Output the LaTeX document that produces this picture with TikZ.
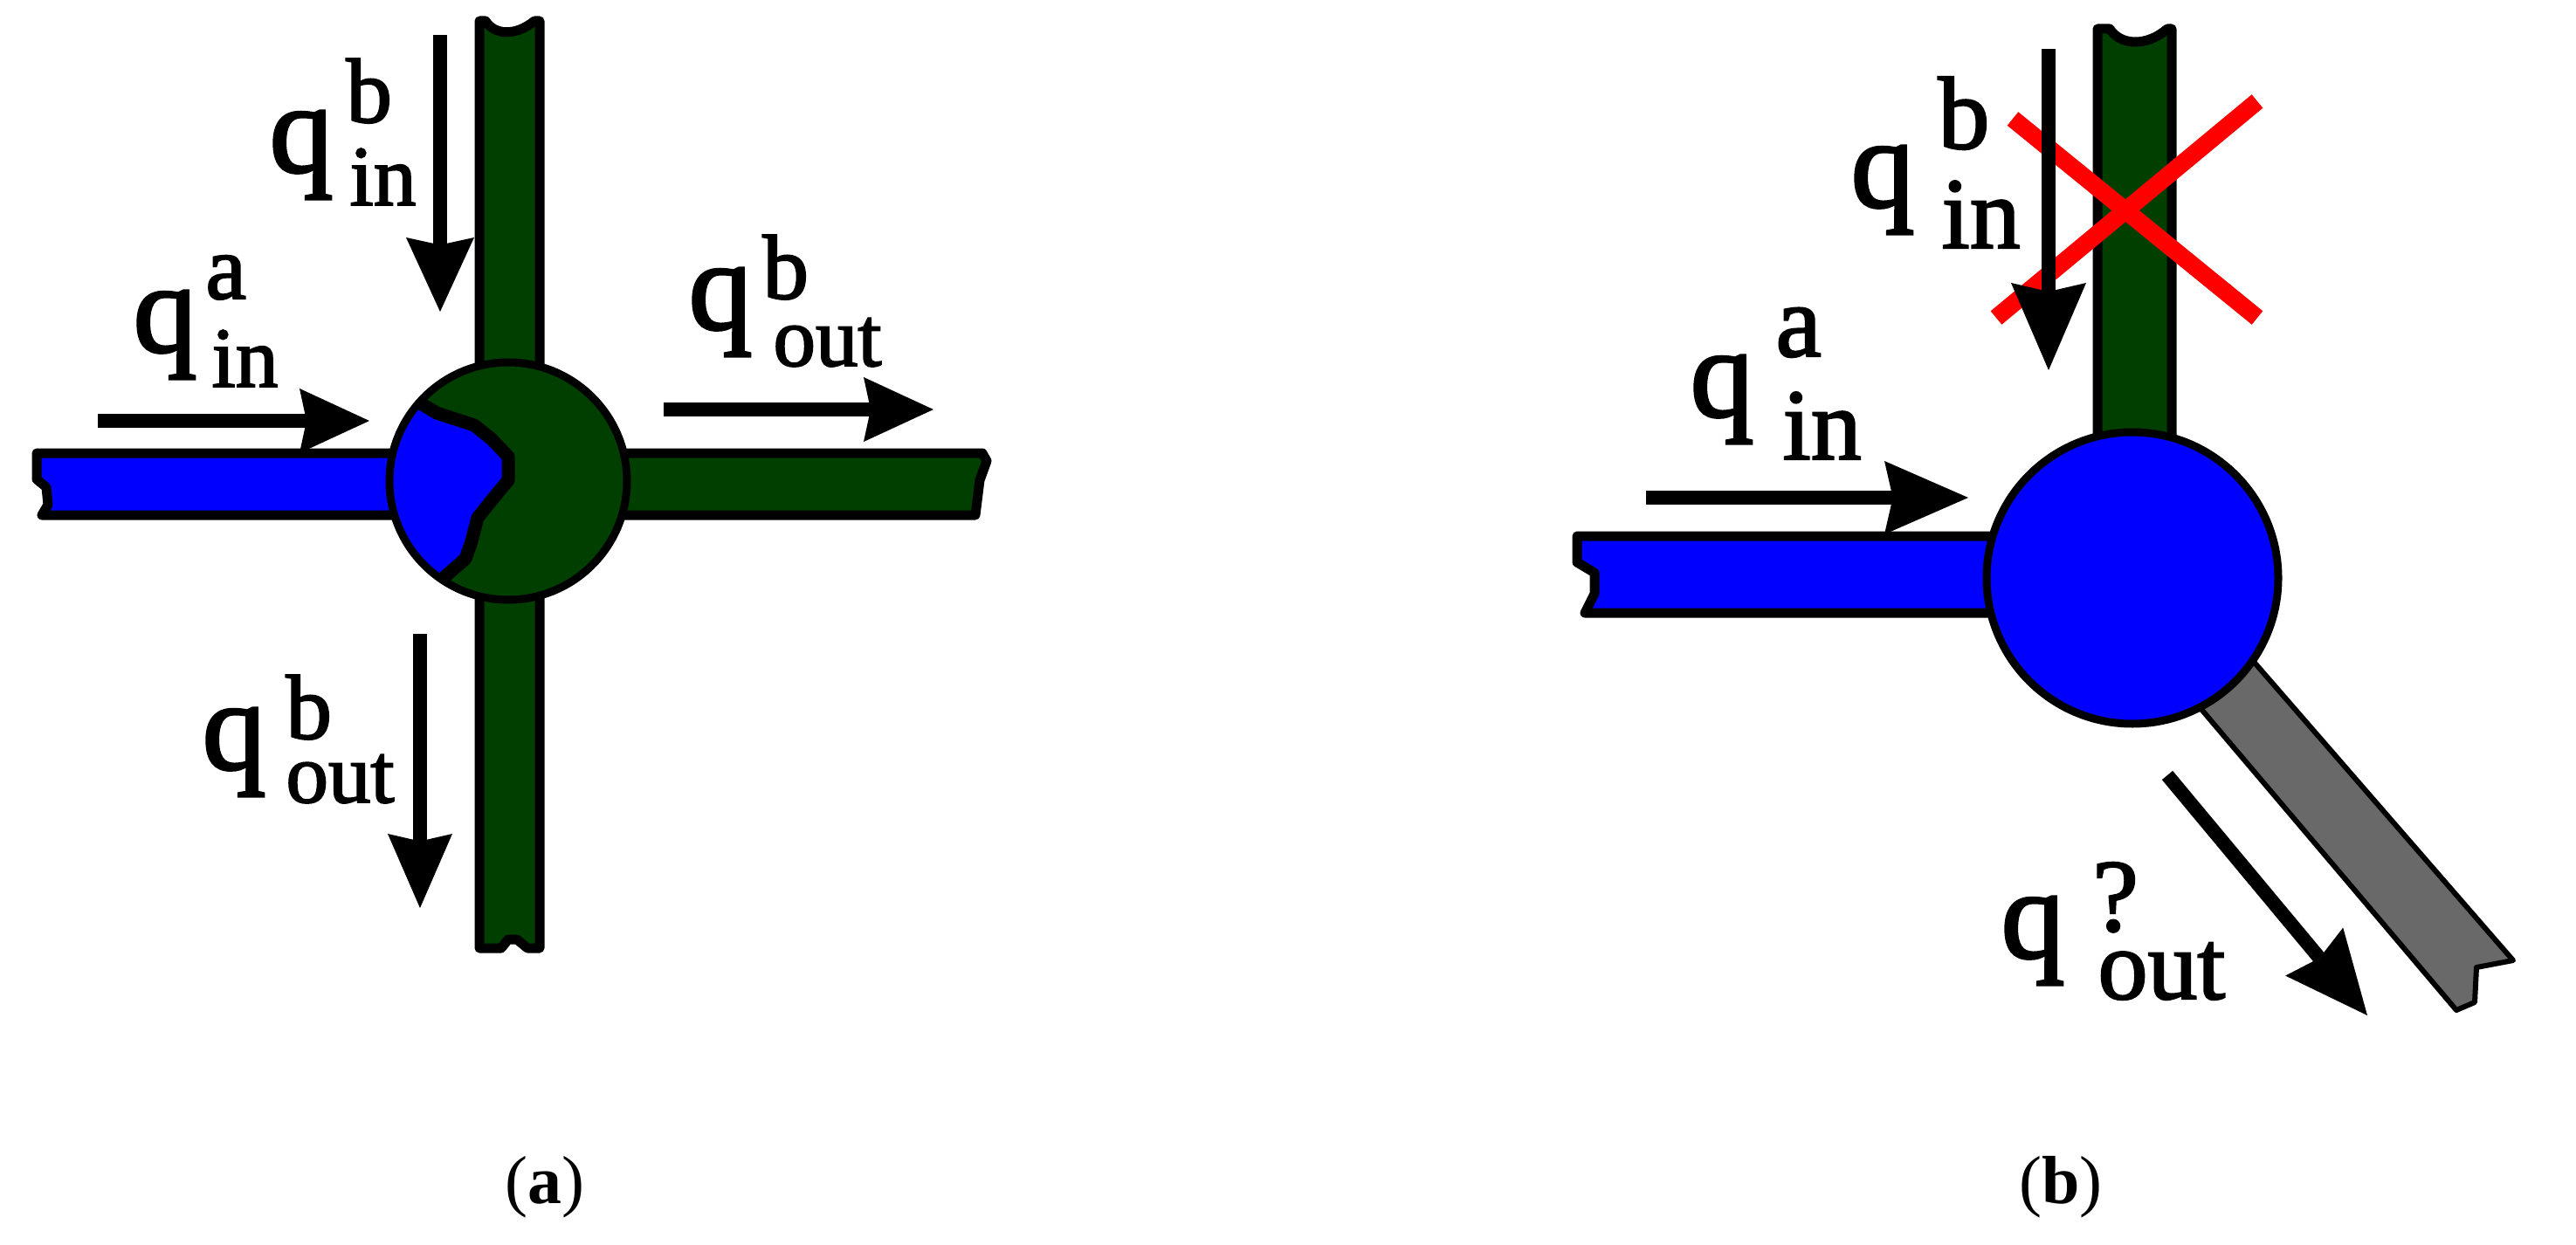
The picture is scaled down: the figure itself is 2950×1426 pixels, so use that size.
\documentclass[tikz,border=0pt]{standalone}
\usepackage{fontspec}
\setmainfont{Liberation Serif}
\newfontfamily\labfont[RawFeature={embolden=2}]{Liberation Serif}
\definecolor{pipegreen}{HTML}{003F00}
\definecolor{pipeblue}{HTML}{0000FF}
\definecolor{pipegray}{HTML}{696969}
\tikzset{
  pipe/.style={draw=black,line width=11pt,line join=round},
  thinpipe/.style={draw=black,line width=6pt,line join=round},
  shaft/.style={draw=black,line width=16pt},
  redcross/.style={draw=red,line width=20pt},
  lab/.style={anchor=base west,inner sep=0pt,outer sep=0pt},
  captext/.style={anchor=base,inner sep=0pt,outer sep=0pt,font=\fontsize{78}{78}\selectfont}
}
% #1 sup size, #2 sup, #3 sub, #4 sup dx, #5 sup raise, #6 sub dx, #7 sub drop, #8 sub size
\newcommand{\qlabel}[8]{\labfont{\fontsize{146}{146}\selectfont q}\hspace{-73pt}\hbox to 0pt{\hspace{#4pt}\raisebox{#5pt}{\fontsize{#1}{#1}\selectfont #2}\hss}\hbox to 0pt{\hspace{#6pt}\raisebox{-#7pt}{\fontsize{#8}{#8}\selectfont #3}\hss}\hspace{73pt}}
\newcommand{\flowarrow}[8]{% name, tail x,y, tip x,y, angle, head length, head half width
  \coordinate (#1t) at (#2,#3);
  \coordinate (#1h) at (#4,#5);
  \begin{scope}[shift={(#4,#5)},rotate=#6]
    \coordinate (#1b) at (-#7*0.9,0);
    \fill[black] (0,0) -- (-#7,#8) -- (-#7*0.9,0) -- (-#7,-#8) -- cycle;
  \end{scope}
  \draw[shaft] (#1t) -- (#1b);
}
\begin{document}
\begin{tikzpicture}[x=1pt,y=-1pt]
\useasboundingbox (0,0) rectangle (2950,1426);
\fill[white] (0,0) rectangle (2950,1426);

%%%%% PANEL A
\path[pipe,fill=pipeblue] (600,519) -- (42,519) -- (42,549) -- (53,558) -- (55,578) -- (48,590) -- (600,590) -- cycle;
\path[pipe,fill=pipegreen] (582,519) -- (1125,519) -- (1130,528) -- (1122,550) -- (1117,590) -- (582,590) -- cycle;
\path[pipe,fill=pipegreen] (549,600) -- (549,24) -- (556,24) .. controls (566,40) and (590,42) .. (612,24) -- (618,24) -- (618,1086) -- (604,1086) -- (592,1076) -- (582,1076) -- (574,1086) -- (549,1086) -- cycle;
\path[fill=pipegreen] (582,551) circle[radius=136];
\begin{scope}
  \clip (582,551) circle[radius=136];
  \path[draw=black,line width=15pt,fill=pipeblue,line join=round]
    (470,455) -- (500,473) -- (543,487) -- (563,503) -- (582,523) -- (582,550) -- (563,573) -- (547,593) -- (540,620) -- (533,640) -- (510,660) -- (495,680) -- (420,680) -- (420,455) -- cycle;
\end{scope}
\draw[line width=9pt] (582,551) circle[radius=136];
\flowarrow{aa}{504}{40}{504}{357}{-90}{85}{39}
\flowarrow{ab}{112}{482}{423}{482}{0}{80}{37}
\flowarrow{ac}{760}{469}{1069}{469}{0}{80}{37}
\flowarrow{ad}{481}{726}{481}{1040}{-90}{85}{37}
\node[lab] (qbinA) at (308,197) {\qlabel{105}{b}{in}{88}{57}{92}{38}{98}};
\node[lab] (qainA) at (152,403) {\qlabel{105}{a}{in}{83}{61}{90}{40}{98}};
\node[lab] (qboutA) at (788,377) {\qlabel{105}{b}{out}{85}{35}{97}{42}{97}};
\node[lab] (qboutB) at (231,881) {\qlabel{105}{b}{out}{96}{35}{96}{38}{97}};
\node[captext] (capa) at (624,1378) {(\textbf{a})};

%%%%% PANEL B
\path[pipe,fill=pipeblue] (2300,614) -- (1806,614) -- (1806,644) -- (1826,656) -- (1826,680) -- (1815,702) -- (2300,702) -- cycle;
\path[pipe,fill=pipegreen] (2402,520) -- (2402,33) -- (2416,33) .. controls (2428,52) and (2458,54) .. (2482,33) -- (2487,33) -- (2487,520) -- cycle;
\path[thinpipe,fill=pipegray] (2474,757) -- (2535,705) -- (2878,1100) -- (2836,1108) -- (2834,1148) -- (2813,1157) -- cycle;
\path[draw=black,line width=9pt,fill=pipeblue] (2442,662) circle[radius=167];
\draw[redcross] (2305,136) -- (2585,364);
\draw[redcross] (2585,116) -- (2286,364);
\flowarrow{ba}{2346}{56}{2346}{424}{-90}{100}{43}
\flowarrow{bb}{1885}{570}{2254}{570}{0}{96}{42}
\flowarrow{bc}{2482}{888}{2711}{1163}{-50.2}{95}{43}
\node[lab] (qbinB) at (2119,237) {\qlabel{118}{b}{in}{100}{67}{104}{47}{116}};
\node[lab] (qainB) at (1935,477) {\qlabel{118}{a}{in}{98}{69}{106}{49}{116}};
\node[lab] (qoutB) at (2291,1097) {\qlabel{118}{?}{out}{105}{31}{111}{47}{114}};
\node[captext] (capb) at (2360,1378) {(\textbf{b})};
\end{tikzpicture}
\end{document}
